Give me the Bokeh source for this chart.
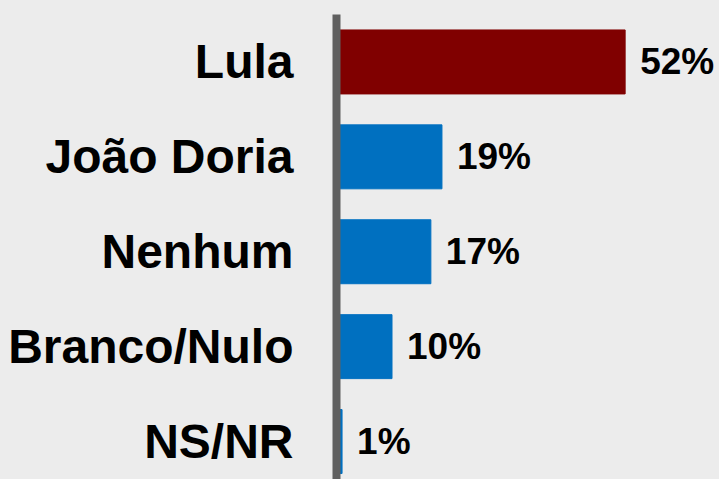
from bokeh.plotting import figure
from bokeh.models import ColumnDataSource, Range1d, FixedTicker, GlobalInlineStyleSheet
from bokeh.core.properties import value
from bokeh.embed import file_html
from bokeh.resources import INLINE

categories = ["Lula", "João Doria", "Nenhum", "Branco/Nulo", "NS/NR"]
values = [52, 19, 17, 10, 1]
colors = ["#800000", "#0070c0", "#0070c0", "#0070c0", "#0070c0"]
labels = [f"{v}%" for v in values]

BG = "#ececec"
idx = list(range(len(categories)))
src = ColumnDataSource(dict(idx=idx, value=values, color=colors, label=labels))

p = figure(width=719, height=479, output_backend="svg", toolbar_location=None,
           x_range=Range1d(0, 69), y_range=Range1d(4.4, -0.5),
           min_border_left=336, min_border_right=0, min_border_top=14, min_border_bottom=0)
p.background_fill_color = BG
p.border_fill_color = BG
p.outline_line_color = None
p.xgrid.visible = False
p.ygrid.visible = False
p.xaxis.visible = False

p.hbar(y="idx", right="value", left=0, height=0.674, color="color", source=src)
p.text(x="value", y="idx", text="label", source=src, x_offset=15,
       text_align="left", text_baseline="middle",
       text_font=value("Liberation Sans"), text_font_style="bold",
       text_font_size="37px", text_color="#000000")

ax = p.yaxis[0]
ax.ticker = FixedTicker(ticks=idx)
ax.major_label_overrides = {i: c for i, c in zip(idx, categories)}
ax.axis_line_color = "#606060"
ax.axis_line_width = 8
ax.major_tick_line_color = None
ax.minor_tick_line_color = None
ax.major_tick_in = 0
ax.major_tick_out = 0
ax.major_label_standoff = 43
ax.major_label_text_font = "Liberation Sans"
ax.major_label_text_font_style = "bold"
ax.major_label_text_font_size = "48px"
ax.major_label_text_color = "#000000"

p.stylesheets = [GlobalInlineStyleSheet(css="html, body { background: #ececec; }")]

open("out.html", "w").write(file_html(p, INLINE))
